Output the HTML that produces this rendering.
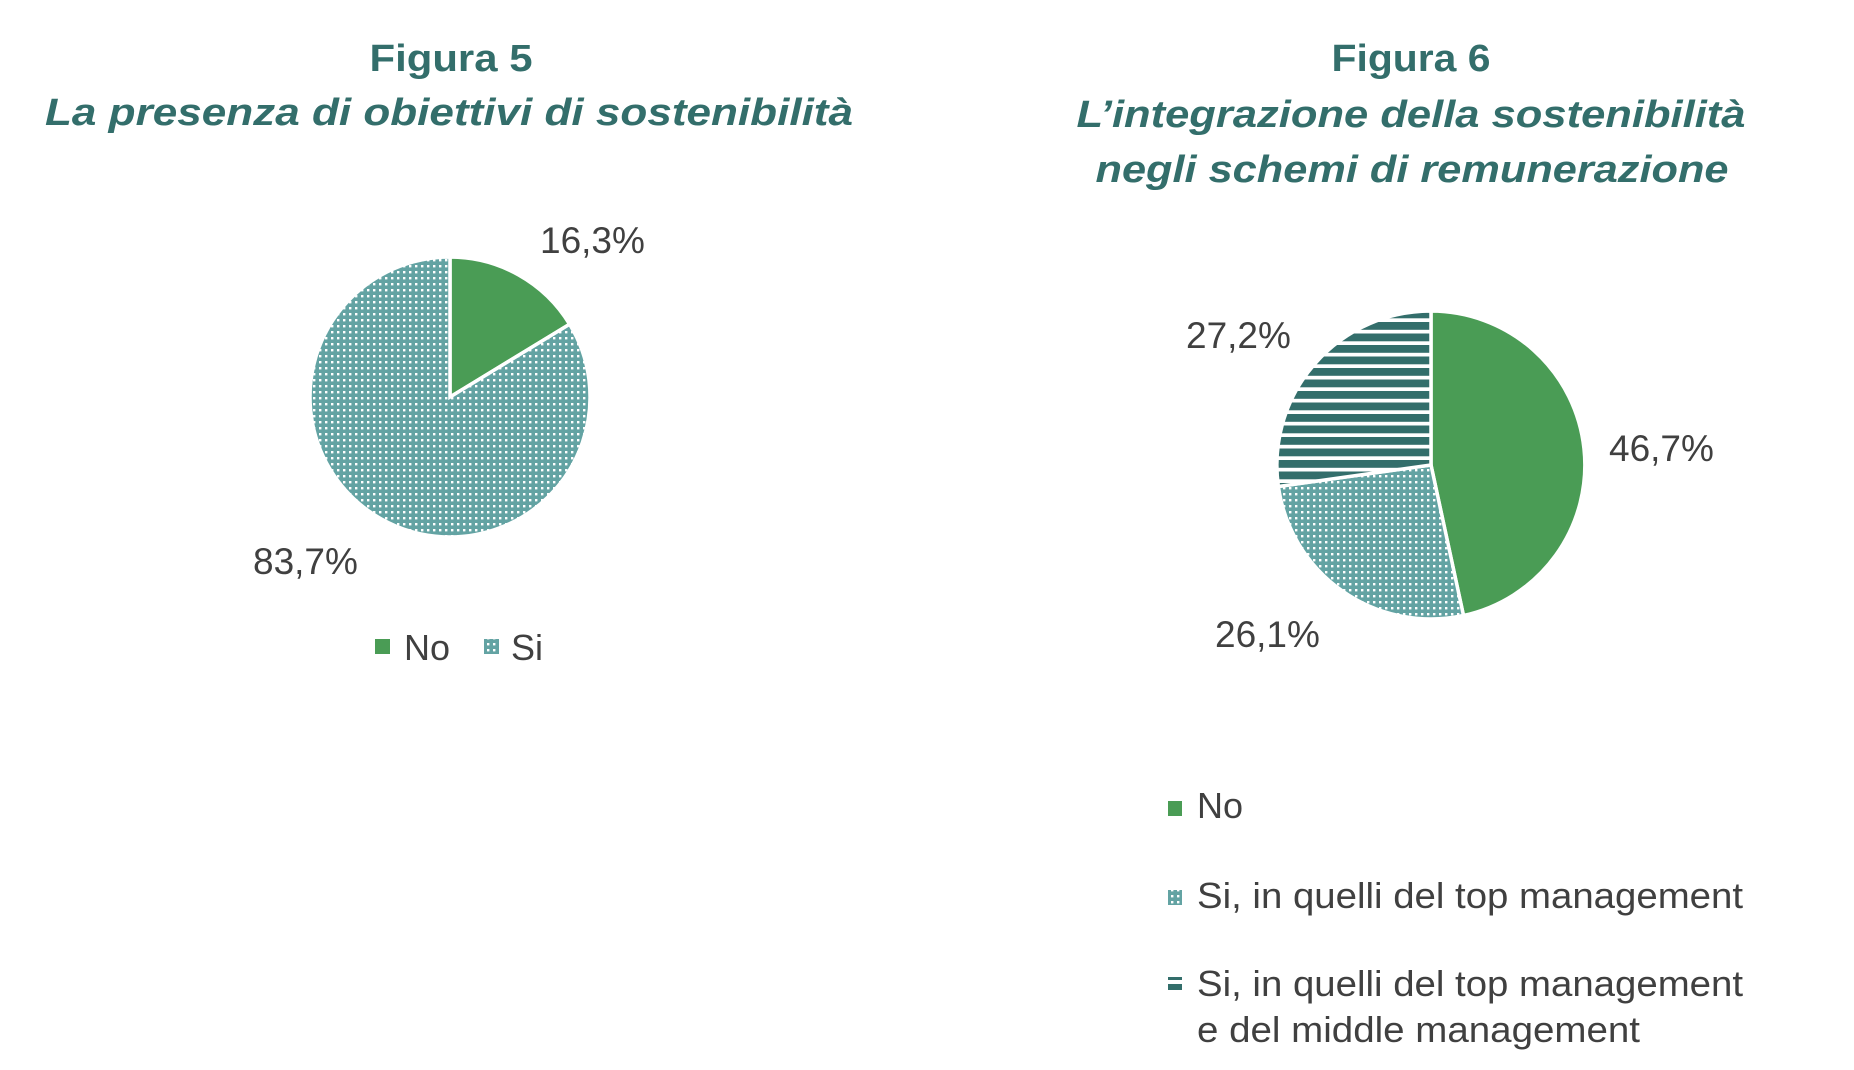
<!DOCTYPE html>
<html><head><meta charset="utf-8"><style>
html,body{margin:0;padding:0;background:#fff;}
svg{display:block;}
</style></head><body>
<svg width="1854" height="1070" viewBox="0 0 1854 1070" xmlns="http://www.w3.org/2000/svg">
<defs>
<pattern id="dots" width="6" height="6" patternUnits="userSpaceOnUse">
<rect width="6" height="6" fill="#63a3a3"/>
<rect x="1" y="1" width="2.4" height="2.4" fill="#ffffff"/>
</pattern>
<pattern id="stripes" width="11.5" height="11.5" patternUnits="userSpaceOnUse">
<rect width="11.5" height="11.5" fill="#ffffff"/>
<rect y="0" width="11.5" height="7.8" fill="#336e6b"/>
</pattern>
</defs>
<g font-family="Liberation Sans, sans-serif" fill="#336e6b" font-weight="bold" text-anchor="middle">
<text x="451" y="71" font-size="38" textLength="163" lengthAdjust="spacingAndGlyphs">Figura 5</text>
<text x="449" y="125" font-size="38" font-style="italic" textLength="808" lengthAdjust="spacingAndGlyphs">La presenza di obiettivi di sostenibilità</text>
<text x="1411" y="71" font-size="38" textLength="159" lengthAdjust="spacingAndGlyphs">Figura 6</text>
<text x="1411" y="127" font-size="38" font-style="italic" textLength="669" lengthAdjust="spacingAndGlyphs">L’integrazione della sostenibilità</text>
<text x="1412" y="182" font-size="38" font-style="italic" textLength="633" lengthAdjust="spacingAndGlyphs">negli schemi di remunerazione</text>
</g>
<g stroke="#fff" stroke-width="3.5" stroke-linejoin="miter">
<path d="M450,397 L450,257 A140,140 0 0,1 569.6,324.2 Z" fill="#4a9c55"/>
<path d="M450,397 L569.6,324.2 A140,140 0 1,1 450,257 Z" fill="url(#dots)"/>
</g>
<g transform="translate(-2,0)" stroke="#fff" stroke-width="3.5">
<path d="M1433,465 L1433,311 A154,154 0 0,1 1465.5,615.5 Z" fill="#4a9c55"/>
<path d="M1433,465 L1465.5,615.5 A154,154 0 0,1 1280.4,486.5 Z" fill="url(#dots)"/>
<path d="M1433,465 L1280.4,486.5 A154,154 0 0,1 1433,311 Z" fill="url(#stripes)"/>
</g>
<g font-family="Liberation Sans, sans-serif" fill="#404040" font-size="37">
<text x="540" y="253">16,3%</text>
<text x="253" y="574">83,7%</text>
<text x="1186" y="348">27,2%</text>
<text x="1609" y="461">46,7%</text>
<text x="1215" y="647">26,1%</text>
</g>
<g font-family="Liberation Sans, sans-serif" fill="#404040" font-size="36">
<rect x="375" y="639" width="15" height="15" fill="#4a9c55"/>
<text x="404" y="660">No</text>
<rect x="484" y="639" width="15" height="15" fill="url(#dots)"/>
<text x="511" y="660">Si</text>
<rect x="1168" y="801" width="14" height="15" fill="#4a9c55"/>
<text x="1197" y="818">No</text>
<rect x="1168" y="890" width="14" height="15" fill="url(#dots)"/>
<text x="1197" y="908" textLength="546" lengthAdjust="spacingAndGlyphs">Si, in quelli del top management</text>
<rect x="1168" y="977" width="14" height="3" fill="#336e6b"/>
<rect x="1168" y="984" width="14" height="6" fill="#336e6b"/>
<text x="1197" y="996" textLength="546" lengthAdjust="spacingAndGlyphs">Si, in quelli del top management</text>
<text x="1197" y="1042" textLength="443" lengthAdjust="spacingAndGlyphs">e del middle management</text>
</g>
</svg>
</body></html>
